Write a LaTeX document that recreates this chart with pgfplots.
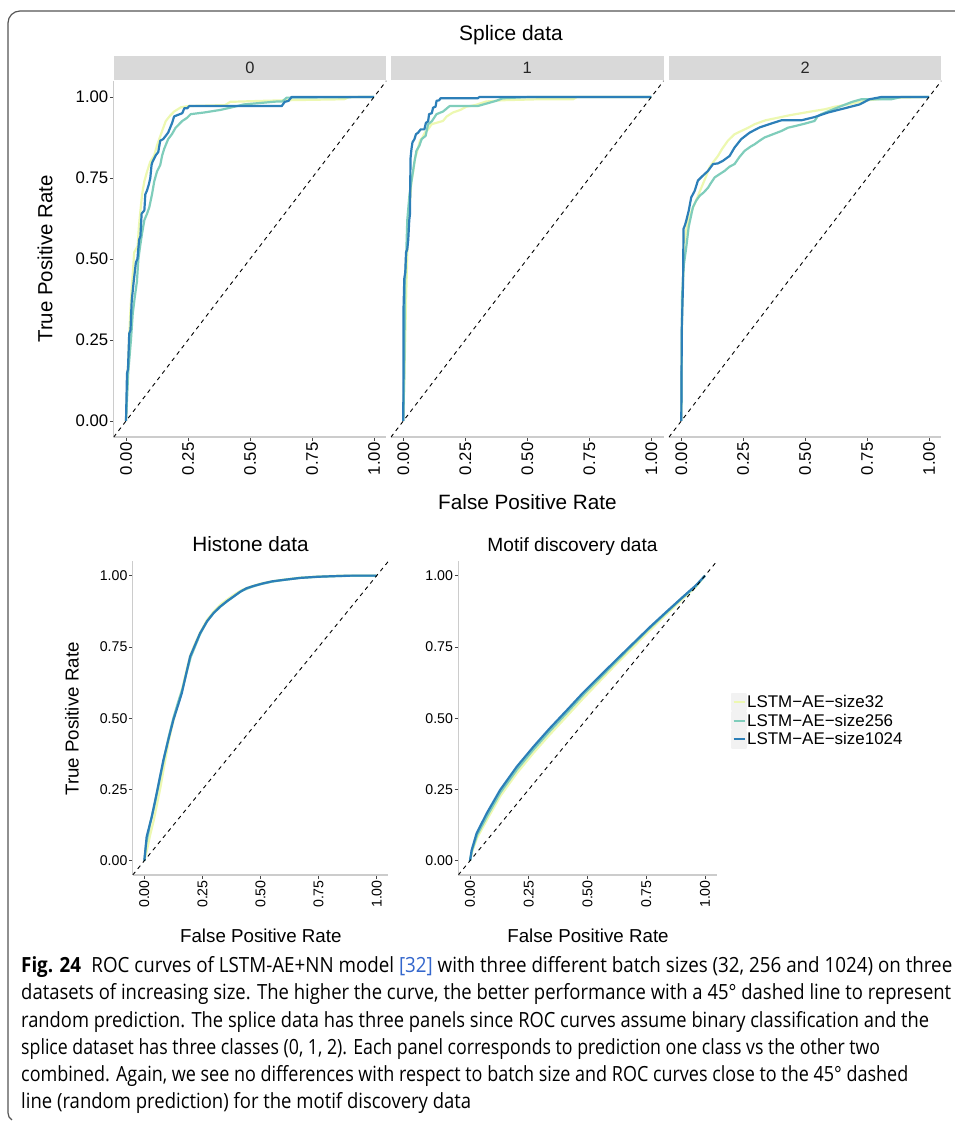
\documentclass[border=0pt]{standalone}
\usepackage{fontspec}
\setmainfont{Liberation Sans}
\newfontfamily\capfont{Open Sans}
\usepackage{graphicx}
\usepackage{pgfplots}
\pgfplotsset{compat=1.18}

\definecolor{cA}{HTML}{EDF8B1}
\definecolor{cB}{HTML}{7FCDBB}
\definecolor{cC}{HTML}{2C7FB8}
\definecolor{axgray}{HTML}{CCCCCC}
\definecolor{tickgray}{HTML}{444444}
\definecolor{stripgray}{HTML}{D9D9D9}
\definecolor{linkblue}{HTML}{3366CC}
\definecolor{framegray}{HTML}{555555}

\pgfplotsset{
  rocbase/.style={
    scale only axis, anchor=south west,
    xmin=-0.05,xmax=1.05,ymin=-0.05,ymax=1.05,
    xtick={0,0.25,0.5,0.75,1}, xticklabels={0.00,0.25,0.50,0.75,1.00},
    ytick={0,0.25,0.5,0.75,1}, yticklabels={0.00,0.25,0.50,0.75,1.00},
    axis x line*=bottom, axis y line*=left,
    axis line style={axgray, line width=1.4bp, -},
    tick align=outside, major tick length=3.6bp,
    tick style={tickgray, line width=0.7bp},
    xticklabel style={rotate=90, anchor=east, inner sep=1.5bp},
    yticklabel style={anchor=east, inner sep=1.5bp},
    /pgf/number format/assume math mode=true,
  },
  toprow/.style={rocbase, width=272.8bp, height=356.4bp,
    tick label style={font=\fontsize{16.8}{16.8}\selectfont}},
  botrow/.style={rocbase, height=313.6bp,
    tick label style={font=\fontsize{14.2}{14.2}\selectfont}},
  c32/.style={cA, line width=2.2bp, line join=round},
  c256/.style={cB, line width=2.2bp, line join=round},
  c1024/.style={cC, line width=2.2bp, line join=round},
  diag/.style={black, line width=0.9bp, dash pattern=on 4bp off 4bp, forget plot},
}

\begin{document}
\begin{tikzpicture}[x=1bp,y=1bp]
\useasboundingbox (0,0) rectangle (955,1121);

% frame
\draw[framegray, line width=1.2bp] (955,1110) -- (20,1110) arc[start angle=90, end angle=180, radius=12] -- (8,8) arc[start angle=180, end angle=240, radius=8];

% ---------- Splice panel 0 ----------
\begin{axis}[toprow, at={(113.6bp,683.8bp)}]
\addplot[c32] coordinates {(0,0) (0.007,0.15) (0.015,0.30) (0.022,0.40) (0.027,0.45) (0.033,0.52) (0.047,0.54) (0.052,0.60) (0.057,0.64) (0.065,0.70) (0.074,0.74) (0.085,0.77) (0.098,0.80) (0.114,0.82) (0.125,0.85) (0.134,0.87) (0.148,0.90) (0.160,0.925) (0.175,0.94) (0.194,0.955) (0.221,0.968) (0.25,0.972) (0.40,0.975) (0.42,0.985) (0.55,0.988) (0.65,0.990) (0.88,0.993) (0.90,1) (1,1)};
\addplot[c256] coordinates {(0,0) (0.009,0.15) (0.020,0.25) (0.027,0.33) (0.035,0.38) (0.044,0.43) (0.050,0.50) (0.057,0.54) (0.065,0.58) (0.074,0.62) (0.085,0.64) (0.094,0.66) (0.105,0.70) (0.114,0.74) (0.125,0.77) (0.138,0.79) (0.146,0.82) (0.154,0.84) (0.170,0.87) (0.185,0.885) (0.2,0.905) (0.227,0.926) (0.245,0.935) (0.261,0.947) (0.314,0.952) (0.38,0.96) (0.421,0.967) (0.475,0.977) (0.608,0.986) (0.630,0.986) (0.648,0.998) (1,1)};
\addplot[c1024] coordinates {(0,0) (0.004,0.147) (0.008,0.16) (0.013,0.27) (0.018,0.28) (0.023,0.37) (0.031,0.43) (0.040,0.49) (0.046,0.50) (0.053,0.56) (0.058,0.57) (0.063,0.64) (0.074,0.65) (0.078,0.70) (0.084,0.71) (0.092,0.73) (0.098,0.75) (0.103,0.79) (0.107,0.80) (0.120,0.82) (0.13,0.83) (0.138,0.865) (0.150,0.87) (0.160,0.88) (0.170,0.89) (0.178,0.905) (0.186,0.92) (0.194,0.94) (0.227,0.95) (0.235,0.965) (0.247,0.965) (0.255,0.972) (0.628,0.972) (0.640,0.985) (0.655,0.988) (0.668,1.0) (1,1)};
\addplot[diag] coordinates {(-0.05,-0.05) (1.05,1.05)};
\end{axis}

% ---------- Splice panel 1 ----------
\begin{axis}[toprow, at={(390.9bp,683.8bp)}, axis y line=none]
\addplot[c32] coordinates {(0,0) (0.003,0.10) (0.007,0.23) (0.012,0.40) (0.020,0.62) (0.027,0.68) (0.033,0.74) (0.040,0.77) (0.047,0.81) (0.055,0.83) (0.067,0.865) (0.077,0.875) (0.087,0.89) (0.100,0.90) (0.114,0.916) (0.160,0.926) (0.175,0.94) (0.2,0.952) (0.23,0.96) (0.254,0.97) (0.290,0.975) (0.334,0.986) (0.401,0.99) (0.55,0.993) (0.685,0.993) (0.70,1) (1,1)};
\addplot[c256] coordinates {(0,0) (0.004,0.15) (0.007,0.43) (0.012,0.52) (0.016,0.62) (0.025,0.70) (0.033,0.74) (0.045,0.80) (0.053,0.834) (0.065,0.85) (0.074,0.87) (0.090,0.88) (0.100,0.916) (0.115,0.925) (0.134,0.947) (0.160,0.955) (0.187,0.972) (0.300,0.972) (0.374,0.988) (0.401,0.996) (0.508,1.0) (1,1)};
\addplot[c1024] coordinates {(0,0) (0.001,0.35) (0.004,0.44) (0.008,0.46) (0.011,0.52) (0.016,0.53) (0.020,0.56) (0.024,0.62) (0.027,0.64) (0.029,0.81) (0.033,0.84) (0.037,0.86) (0.045,0.87) (0.051,0.885) (0.060,0.89) (0.070,0.90) (0.085,0.90) (0.091,0.92) (0.100,0.925) (0.104,0.947) (0.115,0.95) (0.120,0.967) (0.130,0.970) (0.134,0.988) (0.145,0.99) (0.150,0.996) (0.300,0.996) (0.307,1.0) (1,1)};
\addplot[diag] coordinates {(-0.05,-0.05) (1.05,1.05)};
\end{axis}

% ---------- Splice panel 2 ----------
\begin{axis}[toprow, width=272.5bp, at={(668.9bp,683.8bp)}, axis y line=none]
\addplot[c32] coordinates {(0,0) (0.003,0.33) (0.011,0.536) (0.020,0.59) (0.027,0.618) (0.040,0.645) (0.054,0.67) (0.070,0.70) (0.081,0.72) (0.100,0.755) (0.114,0.783) (0.130,0.80) (0.148,0.818) (0.165,0.84) (0.188,0.865) (0.215,0.885) (0.242,0.895) (0.270,0.905) (0.296,0.916) (0.340,0.928) (0.39,0.936) (0.44,0.944) (0.485,0.95) (0.53,0.956) (0.579,0.962) (0.62,0.97) (0.673,0.977) (0.72,0.985) (0.754,0.99) (0.82,0.995) (0.888,0.998) (1,1)};
\addplot[c256] coordinates {(0,0) (0.003,0.383) (0.010,0.48) (0.020,0.536) (0.030,0.60) (0.047,0.66) (0.060,0.68) (0.074,0.695) (0.090,0.705) (0.108,0.72) (0.120,0.735) (0.135,0.752) (0.155,0.762) (0.175,0.772) (0.195,0.785) (0.215,0.793) (0.235,0.815) (0.256,0.834) (0.280,0.847) (0.296,0.854) (0.316,0.865) (0.336,0.875) (0.370,0.885) (0.404,0.895) (0.430,0.905) (0.458,0.91) (0.500,0.918) (0.538,0.926) (0.550,0.94) (0.565,0.947) (0.600,0.958) (0.646,0.972) (0.690,0.985) (0.727,0.993) (0.848,0.993) (0.888,1) (1,1)};
\addplot[c1024] coordinates {(0,0) (0.002,0.285) (0.007,0.424) (0.009,0.593) (0.015,0.605) (0.020,0.618) (0.030,0.649) (0.040,0.69) (0.054,0.71) (0.067,0.742) (0.080,0.752) (0.094,0.762) (0.108,0.772) (0.128,0.793) (0.148,0.795) (0.168,0.803) (0.195,0.818) (0.215,0.844) (0.242,0.87) (0.276,0.89) (0.316,0.906) (0.363,0.918) (0.404,0.928) (0.485,0.928) (0.538,0.938) (0.592,0.952) (0.659,0.965) (0.720,0.977) (0.760,0.993) (0.808,1.0) (1,1)};
\addplot[diag] coordinates {(-0.05,-0.05) (1.05,1.05)};
\end{axis}

% ---------- Histone ----------
\begin{axis}[botrow, width=255.6bp, at={(132.7bp,246bp)}]
\addplot[c32] coordinates {(0,0) (0.012,0.04) (0.025,0.09) (0.04,0.14) (0.055,0.2) (0.07,0.26) (0.085,0.33) (0.105,0.42) (0.125,0.49) (0.145,0.55) (0.165,0.61) (0.185,0.68) (0.20,0.725) (0.22,0.765) (0.24,0.80) (0.27,0.845) (0.3,0.875) (0.33,0.90) (0.36,0.918) (0.39,0.935) (0.42,0.95) (0.46,0.962) (0.5,0.972) (0.55,0.98) (0.6,0.986) (0.67,0.993) (0.75,0.997) (0.85,1) (1,1)};
\addplot[c256] coordinates {(0,0) (0.008,0.06) (0.025,0.13) (0.045,0.2) (0.065,0.28) (0.085,0.36) (0.105,0.435) (0.125,0.5) (0.145,0.555) (0.165,0.605) (0.185,0.67) (0.20,0.715) (0.22,0.755) (0.24,0.795) (0.27,0.84) (0.3,0.87) (0.33,0.893) (0.36,0.912) (0.39,0.93) (0.42,0.947) (0.46,0.96) (0.5,0.97) (0.55,0.979) (0.6,0.985) (0.67,0.992) (0.75,0.996) (0.85,0.999) (1,1)};
\addplot[c1024] coordinates {(0,0) (0.010,0.084) (0.032,0.154) (0.053,0.236) (0.082,0.353) (0.105,0.43) (0.125,0.494) (0.145,0.545) (0.161,0.587) (0.18,0.655) (0.197,0.716) (0.22,0.76) (0.24,0.798) (0.27,0.84) (0.297,0.868) (0.326,0.891) (0.355,0.91) (0.383,0.926) (0.41,0.942) (0.44,0.956) (0.475,0.965) (0.512,0.973) (0.55,0.98) (0.598,0.985) (0.67,0.992) (0.742,0.996) (0.81,0.998) (0.885,1.0) (1,1)};
\addplot[diag] coordinates {(-0.05,-0.05) (1.05,1.05)};
\end{axis}

% ---------- Motif discovery ----------
\begin{axis}[botrow, width=258.5bp, at={(458.25bp,246bp)},
  legend style={at={(1.055,0.492)}, anchor=west, draw=none, fill=none,
    inner sep=0pt, outer sep=0pt, row sep=0pt,
    font=\fontsize{17}{17}\selectfont,
    nodes={inner sep=0pt, anchor=west},
    /tikz/every even column/.append style={column sep=4bp}},
  legend cell align=left,
  legend image code/.code={\fill[black!5] (0bp,-8.25bp) rectangle (14bp,8.25bp); \draw[line width=2bp] (1.5bp,0bp) -- (12.5bp,0bp);}]
\addplot[c32] coordinates {(0,0) (0.008,0.03) (0.03,0.08) (0.075,0.148) (0.13,0.228) (0.2,0.308) (0.27,0.378) (0.34,0.443) (0.41,0.505) (0.48,0.568) (0.55,0.628) (0.62,0.688) (0.69,0.746) (0.76,0.804) (0.83,0.86) (0.9,0.915) (0.96,0.96) (1,1)};
\addlegendentry{LSTM−AE−size32}
\addplot[c256] coordinates {(0,0) (0.008,0.035) (0.03,0.09) (0.075,0.16) (0.13,0.24) (0.2,0.32) (0.27,0.39) (0.34,0.455) (0.41,0.517) (0.48,0.58) (0.55,0.638) (0.62,0.697) (0.69,0.755) (0.76,0.812) (0.83,0.866) (0.9,0.92) (0.96,0.962) (1,1)};
\addlegendentry{LSTM−AE−size256}
\addplot[c1024] coordinates {(0,0) (0.007,0.037) (0.028,0.096) (0.071,0.166) (0.128,0.248) (0.199,0.33) (0.27,0.40) (0.34,0.465) (0.411,0.527) (0.482,0.59) (0.553,0.648) (0.624,0.706) (0.695,0.763) (0.766,0.82) (0.837,0.874) (0.908,0.927) (0.96,0.965) (1,1)};
\addlegendentry{LSTM−AE−size1024}
\addplot[diag] coordinates {(-0.05,-0.05) (1.05,1.05)};
\end{axis}

% strips
\fill[stripgray] (113.6,1041) rectangle (386.4,1065);
\fill[stripgray] (390.9,1041) rectangle (663.7,1065);
\fill[stripgray] (668.9,1041) rectangle (941.4,1065);
\node[anchor=base, inner sep=0, font=\fontsize{16.5}{16.5}\selectfont, text=black!85] at (250,1047) {0};
\node[anchor=base, inner sep=0, font=\fontsize{16.5}{16.5}\selectfont, text=black!85] at (527.3,1047) {1};
\node[anchor=base, inner sep=0, font=\fontsize{16.5}{16.5}\selectfont, text=black!85] at (805.1,1047) {2};

% titles and axis labels
\node[anchor=base, inner sep=0, font=\fontsize{21}{21}\selectfont] at (511,1080) {Splice data};
\node[anchor=base, inner sep=0, font=\fontsize{20.8}{20.8}\selectfont] at (527.5,611) {False Positive Rate};
\node[rotate=90, inner sep=0, font=\fontsize{20.5}{20.5}\selectfont] at (45,862) {True Positive Rate};
\node[anchor=base, inner sep=0, font=\fontsize{20.8}{20.8}\selectfont] at (250.5,569.5) {Histone data};
\node[anchor=base, inner sep=0, font=\fontsize{19.2}{19.2}\selectfont] at (572.5,569.3) {Motif discovery data};
\node[anchor=base, inner sep=0, font=\fontsize{18.8}{18.8}\selectfont] at (260.8,178) {False Positive Rate};
\node[anchor=base, inner sep=0, font=\fontsize{18.8}{18.8}\selectfont] at (588,178) {False Positive Rate};
\node[rotate=90, inner sep=0, font=\fontsize{18.8}{18.8}\selectfont] at (72,402) {True Positive Rate};

% caption
\begin{scope}[every node/.style={anchor=base west, inner sep=0}]
\node at (21,148) {\resizebox{931bp}{\height}{\capfont\fontsize{21}{21}\selectfont\textbf{Fig. 24}\hspace{0.55em}ROC curves of LSTM-AE+NN model {\color{linkblue}[32]} with three different batch sizes (32, 256 and 1024) on three}};
\node at (21,121) {\resizebox{930bp}{\height}{\capfont\fontsize{21}{21}\selectfont datasets of increasing size. The higher the curve, the better performance with a 45° dashed line to represent}};
\node at (21,93.5) {\resizebox{908bp}{\height}{\capfont\fontsize{21}{21}\selectfont random prediction. The splice data has three panels since ROC curves assume binary classification and the}};
\node at (21,66) {\resizebox{859bp}{\height}{\capfont\fontsize{21}{21}\selectfont splice dataset has three classes (0, 1, 2). Each panel corresponds to prediction one class vs the other two}};
\node at (21,39) {\resizebox{887bp}{\height}{\capfont\fontsize{21}{21}\selectfont combined. Again, we see no differences with respect to batch size and ROC curves close to the 45° dashed}};
\node at (21,12) {\resizebox{450bp}{\height}{\capfont\fontsize{21}{21}\selectfont line (random prediction) for the motif discovery data}};
\end{scope}
\end{tikzpicture}
\end{document}
